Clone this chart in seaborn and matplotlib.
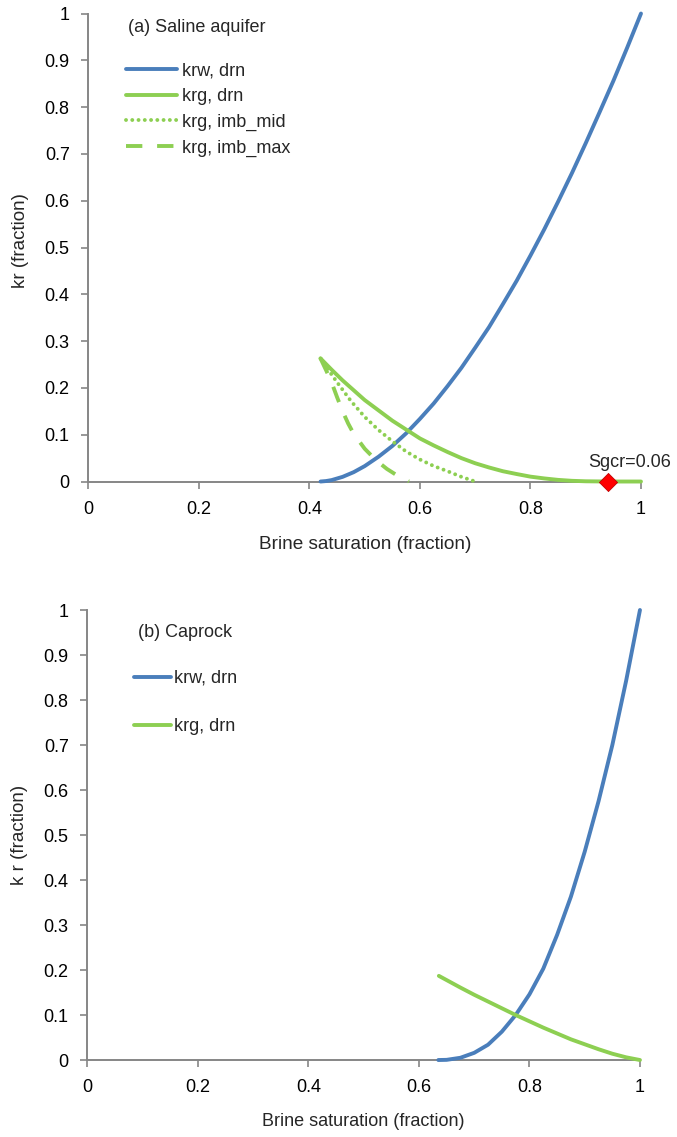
import numpy as np
import pandas as pd
import matplotlib
matplotlib.use('Agg')
import matplotlib.pyplot as plt
import seaborn as sns

# ---- data ----
# (a) saline aquifer
sw_krw_a = [0.42, 0.43, 0.44, 0.46, 0.48, 0.50, 0.525, 0.55, 0.575, 0.60, 0.625, 0.65, 0.675,
            0.70, 0.725, 0.75, 0.775, 0.80, 0.825, 0.85, 0.875, 0.90, 0.925, 0.95, 0.975, 1.00]
krw_a = [0.0, 0.001, 0.003, 0.010, 0.020, 0.033, 0.053, 0.076, 0.103, 0.134, 0.167, 0.204, 0.243,
         0.286, 0.330, 0.379, 0.429, 0.483, 0.539, 0.598, 0.659, 0.723, 0.789, 0.856, 0.927, 1.0]

sw_krg_a = [0.42, 0.44, 0.46, 0.48, 0.50, 0.525, 0.55, 0.575, 0.60, 0.625, 0.65, 0.675, 0.70,
            0.725, 0.75, 0.775, 0.80, 0.825, 0.85, 0.875, 0.90, 0.94, 1.00]
krg_a = [0.263, 0.239, 0.216, 0.195, 0.174, 0.152, 0.130, 0.111, 0.092, 0.077, 0.063, 0.050, 0.039,
         0.030, 0.022, 0.016, 0.0104, 0.0066, 0.0035, 0.0015, 0.0005, 0.0, 0.0]

sw_mid_a = [0.42, 0.435, 0.45, 0.475, 0.50, 0.525, 0.55, 0.575, 0.60, 0.625, 0.65, 0.675, 0.70]
krg_mid_a = [0.263, 0.237, 0.212, 0.172, 0.138, 0.110, 0.086, 0.064, 0.047, 0.033, 0.022, 0.010, 0.0]

sw_max_a = [0.42, 0.43, 0.44, 0.45, 0.46, 0.47, 0.48, 0.50, 0.52, 0.54, 0.56, 0.58]
krg_max_a = [0.263, 0.238, 0.212, 0.180, 0.150, 0.124, 0.102, 0.070, 0.046, 0.027, 0.012, 0.0]

sgcr_point = (0.94, 0.0)

# (b) caprock
sw_krw_b = [0.635, 0.65, 0.675, 0.70, 0.725, 0.75, 0.775, 0.80, 0.825, 0.85, 0.875,
            0.90, 0.925, 0.95, 0.975, 1.00]
krw_b = [0.0, 0.0004, 0.005, 0.016, 0.034, 0.063, 0.100, 0.146, 0.203, 0.278, 0.363,
         0.463, 0.575, 0.700, 0.843, 1.0]

sw_krg_b = [0.636, 0.675, 0.70, 0.725, 0.75, 0.775, 0.80, 0.825, 0.85, 0.875, 0.90,
            0.925, 0.95, 0.975, 1.00]
krg_b = [0.187, 0.161, 0.145, 0.130, 0.115, 0.100, 0.086, 0.072, 0.059, 0.046, 0.035,
         0.024, 0.014, 0.006, 0.0]

x_ticks = [0, 0.2, 0.4, 0.6, 0.8, 1.0]
x_ticklabels = ['0', '0.2', '0.4', '0.6', '0.8', '1']
y_ticks = [0, 0.1, 0.2, 0.3, 0.4, 0.5, 0.6, 0.7, 0.8, 0.9, 1.0]
y_ticklabels = ['0', '0.1', '0.2', '0.3', '0.4', '0.5', '0.6', '0.7', '0.8', '0.9', '1']

BLUE = '#4A7EBB'
GREEN = '#8DCF52'
GREY = '#868686'

sns.set_style('ticks')
plt.rcParams['font.family'] = ['Liberation Sans', 'DejaVu Sans']
plt.rcParams['font.size'] = 13

fig = plt.figure(figsize=(6.77, 11.37), dpi=100)
ax1 = fig.add_axes([0.1307, 0.5765, 0.8161, 0.4116])
ax2 = fig.add_axes([0.1292, 0.0677, 0.8161, 0.3958])


def style_axes(ax):
    ax.set_xlim(0, 1)
    ax.set_ylim(0, 1)
    ax.set_xticks(x_ticks)
    ax.set_xticklabels(x_ticklabels)
    ax.set_yticks(y_ticks)
    ax.set_yticklabels(y_ticklabels)
    for side in ['top', 'right']:
        ax.spines[side].set_visible(False)
    for side in ['left', 'bottom']:
        ax.spines[side].set_color(GREY)
        ax.spines[side].set_linewidth(1.4)
    ax.tick_params(axis='both', colors=GREY, labelcolor='black', labelsize=13,
                   length=5, width=1.2, direction='out')
    ax.tick_params(axis='y', pad=8.5)
    ax.tick_params(axis='x', pad=9)


lw = 2.8
line_kw = dict(estimator=None, sort=False, clip_on=False, zorder=4)

# ---- panel (a) ----
sns.lineplot(x=sw_krw_a, y=krw_a, ax=ax1, color=BLUE, lw=lw, label='krw, drn', **line_kw)
sns.lineplot(x=sw_krg_a, y=krg_a, ax=ax1, color=GREEN, lw=lw, label='krg, drn', **line_kw)
sns.lineplot(x=sw_mid_a, y=krg_mid_a, ax=ax1, color=GREEN, lw=lw, label='krg, imb_mid',
             linestyle=(0, (0.01, 1.6)), dash_capstyle='round', **line_kw)
sns.lineplot(x=sw_max_a, y=krg_max_a, ax=ax1, color=GREEN, lw=lw, label='krg, imb_max',
             linestyle=(0, (4.2, 3.8)), **line_kw)
sns.scatterplot(x=[sgcr_point[0]], y=[sgcr_point[1]], ax=ax1, marker='D', s=85,
                color='#FF0000', edgecolor='#C00000', linewidth=0.6, zorder=6, clip_on=False)
ax1.annotate('Sgcr=0.06', xy=sgcr_point, xytext=(16, 14), textcoords='offset points',
             ha='center', va='center', fontsize=13)

style_axes(ax1)
ax1.set_xlabel('Brine saturation (fraction)', fontsize=13.7)
ax1.set_ylabel('kr (fraction)', fontsize=13.5)
ax1.xaxis.set_label_coords(0.5, -0.117)
ax1.yaxis.set_label_coords(-0.108, 0.515)
ax1.text(0.0715, 0.971, '(a) Saline aquifer', transform=ax1.transAxes,
         ha='left', va='center', fontsize=13)
handles, labels = ax1.get_legend_handles_labels()
ax1.legend(handles[:4], labels[:4], loc='upper left', bbox_to_anchor=(0.068, 0.895),
           frameon=False, fontsize=13, handlelength=2.8, handletextpad=0.3,
           labelspacing=0.47, borderpad=0, borderaxespad=0)

# ---- panel (b) ----
sns.lineplot(x=sw_krw_b, y=krw_b, ax=ax2, color=BLUE, lw=lw, label='krw, drn', **line_kw)
sns.lineplot(x=sw_krg_b, y=krg_b, ax=ax2, color=GREEN, lw=lw, label='krg, drn', **line_kw)

style_axes(ax2)
ax2.set_xlabel('Brine saturation (fraction)', fontsize=13)
ax2.set_ylabel('k r (fraction)', fontsize=13.5)
ax2.xaxis.set_label_coords(0.5, -0.118)
ax2.yaxis.set_label_coords(-0.108, 0.5)
ax2.text(0.0914, 0.949, '(b) Caprock', transform=ax2.transAxes,
         ha='left', va='center', fontsize=13)
handles, labels = ax2.get_legend_handles_labels()
ax2.legend(handles[:2], labels[:2], loc='upper left', bbox_to_anchor=(0.084, 0.867),
           frameon=False, fontsize=13, handlelength=2.05, handletextpad=0.15,
           labelspacing=1.72, borderpad=0, borderaxespad=0)

fig.savefig('out.png', dpi=100)
